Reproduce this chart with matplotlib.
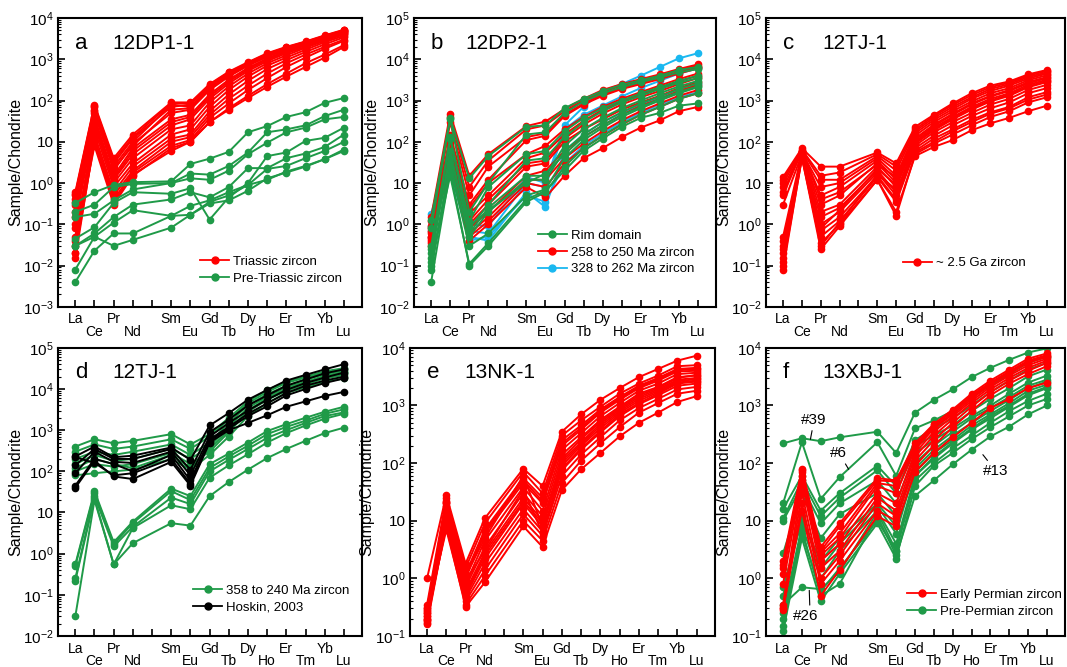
import numpy as np
import matplotlib
matplotlib.use('Agg')
import matplotlib.pyplot as plt
from matplotlib.lines import Line2D
from matplotlib.ticker import LogLocator, FuncFormatter, NullFormatter

plt.rcParams['font.family'] = ['Liberation Sans', 'DejaVu Sans']
plt.rcParams['mathtext.default'] = 'regular'

# REE order, Pm has a tick but no data
ree = ['La', 'Ce', 'Pr', 'Nd', 'Pm', 'Sm', 'Eu', 'Gd', 'Tb', 'Dy', 'Ho', 'Er', 'Tm', 'Yb', 'Lu']
measured = [e for e in ree if e != 'Pm']
upper_row = ['La', 'Pr', 'Sm', 'Gd', 'Dy', 'Er', 'Yb']

RED = '#ff0000'
GREEN = '#1f9a48'
CYAN = '#1ab8f0'
BLACK = '#000000'

# ---- panel a: 12DP1-1 ----
a_triassic = [
    [0.6, 80, 4.0, 15, 90, 90, 250, 500, 850, 1400, 2000, 2700, 3800, 5200],
    [0.55, 75, 3.5, 13, 85, 85, 240, 480, 820, 1350, 1950, 2650, 3700, 5100],
    [0.5, 70, 2.5, 10, 80, 70, 200, 420, 750, 1200, 1800, 2500, 3500, 4800],
    [0.4, 60, 3.0, 12, 70, 80, 220, 450, 800, 1300, 1900, 2600, 3600, 5000],
    [0.35, 55, 2.2, 8, 60, 65, 190, 400, 720, 1180, 1750, 2450, 3450, 4750],
    [0.3, 50, 2.0, 9, 50, 60, 180, 380, 700, 1150, 1700, 2400, 3400, 4700],
    [0.2, 40, 1.5, 7, 35, 45, 140, 320, 620, 1050, 1600, 2300, 3300, 4500],
    [0.15, 35, 1.3, 6, 30, 40, 125, 290, 570, 980, 1500, 2150, 3150, 4350],
    [0.1, 30, 1.2, 5, 25, 35, 110, 260, 520, 900, 1400, 2000, 3000, 4200],
    [0.05, 25, 1.0, 4, 20, 25, 90, 220, 450, 800, 1250, 1900, 2800, 4000],
    [0.03, 20, 0.8, 3, 15, 20, 70, 180, 380, 700, 1100, 1700, 2600, 3700],
    [0.02, 15, 0.6, 2.5, 12, 15, 55, 140, 300, 580, 950, 1500, 2300, 3400],
    [0.015, 12, 0.5, 2, 10, 13, 45, 110, 230, 450, 800, 1300, 2000, 3000],
    [0.02, 10, 0.4, 1.8, 8, 11, 38, 85, 180, 350, 650, 1100, 1800, 2800],
    [0.04, 8, 0.3, 1.5, 7, 10, 30, 65, 130, 250, 450, 800, 1300, 2200],
    [0.08, 10, 0.35, 1.6, 6, 10, 30, 60, 115, 215, 380, 650, 1100, 2000],
]
a_pre_triassic = [
    [0.33, 0.6, 0.9, 1.05, 1.1, 2.9, 3.9, 5.7, 17, 24, 40, 52, 88, 115],
    [0.2, 0.3, 0.8, 0.95, 1.0, 1.7, 1.6, 2.6, 5.5, 17, 20, 25, 42, 60],
    [0.15, 0.18, 0.38, 0.7, 1.0, 1.3, 1.2, 2.0, 5.0, 9.5, 17, 22, 35, 40],
    [0.045, 0.085, 0.33, 0.6, 0.55, 0.75, 0.13, 0.45, 1.0, 4.5, 5.5, 10.5, 12.5, 22],
    [0.03, 0.06, 0.15, 0.3, 0.4, 0.6, 0.45, 0.8, 2.3, 2.3, 4.0, 5.2, 7.5, 15],
    [0.008, 0.05, 0.11, 0.22, 0.16, 0.28, 0.38, 0.6, 0.9, 2.2, 2.6, 4.0, 6.0, 10],
    [0.004, 0.023, 0.06, 0.06, 0.16, 0.17, 0.32, 0.38, 0.65, 1.3, 1.8, 2.5, 3.8, 6],
    [0.03, 0.05, 0.03, 0.042, 0.083, 0.17, 0.35, 0.5, 0.9, 1.2, 1.9, 2.6, 3.8, 6.5],
]

# ---- panel b: 12DP2-1 ----
b_rim = [
    [1.3, 380, 13, 45, 230, 250, 650, 1100, 1700, 2400, 3100, 4000, 5500, 6500],
    [0.8, 350, 2.0, 10, 150, 170, 500, 950, 1500, 2100, 2800, 3600, 4800, 5800],
    [0.3, 130, 1.2, 8, 50, 60, 180, 380, 650, 1000, 1500, 2100, 3000, 4000],
    [0.2, 120, 0.8, 3, 35, 40, 130, 300, 550, 900, 1300, 1900, 2700, 3500],
    [0.15, 60, 0.6, 2.5, 15, 15, 80, 200, 380, 650, 1000, 1500, 2200, 3000],
    [0.1, 30, 0.5, 2.0, 12, 12, 60, 150, 300, 520, 850, 1250, 1900, 2600],
    [0.08, 25, 0.3, 0.6, 5, 7, 40, 110, 220, 400, 650, 1000, 1500, 2100],
    [0.04, 20, 0.1, 0.3, 3.5, 6, 25, 70, 140, 270, 450, 700, 1100, 1500],
    [0.12, 15, 0.11, 0.35, 4, 6.5, 20, 60, 120, 230, 380, 500, 750, 850],
    [0.25, 40, 0.9, 2.2, 10, 17, 50, 130, 250, 450, 700, 1100, 1600, 2200],
]
b_258_250 = [
    [1.5, 480, 15, 50, 240, 310, 620, 1100, 1800, 2500, 3300, 4300, 5800, 7500],
    [0.9, 400, 8, 35, 200, 250, 550, 1000, 1600, 2300, 3000, 4000, 5500, 7000],
    [0.6, 300, 5, 25, 130, 160, 450, 850, 1400, 2000, 2700, 3600, 5000, 6500],
    [0.5, 150, 3, 12, 110, 140, 420, 800, 1300, 1900, 2500, 3300, 4500, 6000],
    [0.4, 100, 2.5, 10, 50, 80, 200, 400, 700, 1100, 1600, 2300, 3300, 4500],
    [0.35, 80, 1.8, 5, 40, 55, 150, 320, 600, 950, 1400, 2000, 2900, 4000],
    [0.3, 60, 1.2, 4, 30, 35, 120, 260, 480, 800, 1200, 1700, 2500, 3500],
    [0.8, 50, 1.0, 3, 25, 30, 100, 200, 350, 600, 900, 1300, 2000, 2800],
    [0.45, 40, 0.8, 2, 15, 20, 60, 130, 250, 450, 750, 1100, 1700, 2400],
    [1.2, 30, 0.5, 1.2, 10, 8, 30, 70, 140, 260, 450, 700, 1100, 1500],
    [0.5, 25, 0.4, 1.0, 8, 4.5, 15, 40, 70, 130, 220, 330, 550, 700],
    [0.7, 45, 0.6, 1.5, 12, 12, 40, 90, 180, 330, 550, 850, 1300, 1800],
]
b_328_262 = [
    [1.8, 90, 1.0, 0.9, 14, 10, 250, 700, 1700, 2500, 4000, 6500, 10500, 14000],
    [0.9, 60, 0.7, 0.6, 10, 8, 200, 450, 750, 1250, 2000, 3000, 4500, 6000],
    [0.5, 40, 0.5, 0.4, 6, 2.6, 60, 150, 300, 500, 800, 1200, 1800, 2500],
    [0.7, 20, 0.4, 0.5, 5, 3.5, 30, 80, 160, 300, 500, 800, 1200, 1600],
]

# ---- panel c: 12TJ-1 ----
c_25ga = [
    [14, 70, 25, 25, 55, 30, 230, 450, 850, 1500, 2300, 2900, 4300, 5500],
    [12, 65, 15, 18, 50, 25, 200, 420, 780, 1350, 2100, 2700, 4000, 5200],
    [10, 60, 12, 12, 45, 20, 180, 380, 700, 1200, 1900, 2500, 3700, 4800],
    [8, 55, 8, 10, 40, 15, 160, 340, 620, 1100, 1700, 2300, 3400, 4500],
    [5, 60, 5, 8, 35, 12, 140, 300, 550, 950, 1500, 2000, 3100, 4100],
    [3, 50, 3, 5, 30, 10, 120, 260, 480, 850, 1300, 1800, 2800, 3700],
    [0.5, 55, 2, 3, 25, 8, 100, 220, 400, 700, 1100, 1500, 2400, 3200],
    [0.4, 45, 1.5, 2.5, 20, 6, 90, 190, 350, 600, 950, 1300, 2100, 2800],
    [0.3, 50, 1.0, 2.0, 18, 5, 80, 170, 300, 500, 800, 1100, 1800, 2400],
    [0.2, 40, 0.7, 1.5, 15, 4, 70, 140, 250, 420, 650, 900, 1500, 2000],
    [0.15, 45, 0.5, 1.2, 14, 3.5, 60, 120, 200, 340, 520, 700, 1200, 1600],
    [0.1, 40, 0.35, 1.0, 12, 1.6, 50, 90, 150, 250, 400, 550, 900, 1200],
    [0.08, 42, 0.25, 0.9, 12, 2, 45, 75, 110, 190, 280, 380, 550, 750],
    [0.12, 48, 0.3, 1.1, 16, 7, 55, 100, 180, 300, 480, 650, 1050, 1400],
    [0.25, 52, 0.8, 2.2, 22, 9, 95, 200, 380, 650, 1000, 1400, 2200, 3000],
    [6, 58, 4, 6, 28, 14, 110, 240, 450, 800, 1250, 1700, 2600, 3500],
]

# ---- panel d: 12TJ-1 ----
d_358_240 = [
    [400, 600, 480, 550, 800, 450, 800, 2000, 5000, 9500, 15000, 20000, 27000, 32000],
    [300, 450, 350, 400, 600, 350, 700, 1800, 4500, 8500, 14000, 19000, 25000, 30000],
    [200, 300, 250, 300, 450, 250, 500, 1500, 4000, 7500, 12000, 17000, 23000, 28000],
    [150, 250, 180, 200, 350, 200, 400, 1200, 3500, 6500, 11000, 15000, 21000, 26000],
    [100, 150, 130, 150, 280, 150, 300, 900, 2800, 5500, 9000, 13000, 18000, 22000],
    [80, 90, 100, 110, 200, 110, 250, 700, 2200, 4500, 8000, 11000, 15000, 18000],
    [120, 200, 150, 120, 250, 120, 350, 1000, 3000, 6000, 10000, 14000, 19000, 24000],
    [0.55, 33, 1.9, 6, 38, 25, 150, 270, 500, 950, 1400, 2000, 2800, 3700],
    [0.5, 30, 1.7, 5.5, 33, 20, 120, 230, 420, 800, 1200, 1700, 2500, 3200],
    [0.25, 25, 1.5, 4.5, 23, 16, 100, 190, 350, 650, 1000, 1500, 2200, 2700],
    [0.22, 22, 0.55, 4.2, 15, 12, 70, 140, 260, 500, 850, 1300, 1900, 2500],
    [0.03, 20, 0.55, 1.8, 5.5, 4.8, 25, 55, 110, 210, 350, 550, 850, 1150],
]
d_hoskin = [
    [230, 400, 220, 240, 380, 190, 1300, 2600, 5500, 9500, 16000, 22000, 30000, 40000],
    [140, 350, 200, 200, 350, 110, 900, 1800, 4000, 7000, 12000, 17000, 24000, 30000],
    [90, 300, 170, 160, 300, 80, 700, 1500, 3000, 5500, 9500, 14000, 19000, 25000],
    [45, 200, 150, 100, 250, 60, 600, 1200, 2500, 4500, 8000, 12000, 16000, 20000],
    [40, 180, 75, 65, 170, 45, 500, 1000, 1500, 2300, 3700, 5000, 6800, 8500],
    [220, 160, 80, 90, 200, 50, 550, 1100, 2200, 3800, 7000, 10000, 14000, 18000],
]

# ---- panel e: 13NK-1 ----
e_zircon = [
    [1.0, 28, 1.8, 11, 80, 40, 350, 700, 1250, 2000, 3100, 4300, 6000, 7300],
    [0.35, 25, 1.5, 9, 70, 30, 300, 550, 950, 1600, 2400, 3300, 4800, 5000],
    [0.3, 22, 1.2, 7, 55, 25, 250, 450, 850, 1400, 2200, 3000, 4300, 4500],
    [0.27, 21, 1.1, 6.5, 50, 22, 220, 410, 800, 1320, 2100, 2850, 4100, 4250],
    [0.25, 20, 1.0, 6, 45, 20, 200, 380, 750, 1250, 2000, 2700, 3900, 4000],
    [0.22, 18, 0.8, 4.5, 38, 15, 170, 330, 650, 1100, 1800, 2400, 3500, 3700],
    [0.2, 15, 0.7, 3.5, 30, 12, 140, 280, 560, 950, 1600, 2100, 3100, 3300],
    [0.18, 12, 0.6, 2.8, 25, 10, 110, 230, 480, 850, 1400, 1900, 2800, 3000],
    [0.17, 10, 0.5, 2.2, 20, 8, 90, 200, 400, 750, 1200, 1700, 2500, 2700],
    [0.16, 9, 0.45, 1.8, 16, 6.5, 75, 170, 340, 650, 1050, 1500, 2200, 2400],
    [0.2, 8, 0.4, 1.4, 13, 5.5, 60, 140, 280, 550, 900, 1300, 1900, 2100],
    [0.25, 7, 0.35, 1.1, 10, 4.5, 45, 110, 220, 420, 750, 1100, 1600, 1800],
    [0.3, 8, 0.32, 0.85, 8, 3.5, 34, 78, 150, 290, 500, 750, 1150, 1450],
    [0.22, 20, 1.1, 5, 60, 8, 120, 260, 520, 900, 1500, 2000, 3000, 3400],
    [0.28, 16, 0.9, 3, 35, 6, 80, 180, 360, 700, 1100, 1600, 2400, 2600],
    [0.19, 14, 0.55, 2.5, 22, 9, 100, 215, 440, 800, 1300, 1800, 2650, 2850],
]

# ---- panel f: 13XBJ-1 ----
f_pre_permian = [
    [220, 270, 240, 280, 350, 150, 750, 1250, 1900, 3100, 4500, 6200, 8300, 9800],   # #39
    [20, 230, 24, 57, 230, 60, 400, 550, 800, 1400, 2200, 3500, 5500, 7000],         # #6
    [16, 60, 15, 30, 90, 40, 250, 400, 600, 1000, 1700, 2700, 4200, 5500],
    [11, 50, 12, 25, 75, 30, 200, 300, 450, 800, 1300, 2000, 3200, 4200],
    [10, 40, 9, 20, 50, 20, 150, 250, 400, 650, 1000, 1600, 2500, 3300],
    [2.7, 30, 5, 13, 30, 12, 100, 200, 350, 600, 900, 1400, 2200, 2800],
    [0.7, 10, 2, 5, 20, 8, 70, 150, 250, 450, 700, 1100, 1800, 2300],
    [0.25, 8, 1.0, 3, 15, 4, 60, 120, 220, 380, 600, 950, 1500, 2000],
    [0.15, 6, 0.6, 1.5, 10, 3, 50, 100, 180, 300, 500, 800, 1200, 1600],
    [0.12, 5, 0.4, 1.2, 9, 2.2, 40, 90, 150, 260, 420, 650, 1000, 1300],
    [0.2, 7, 0.5, 0.8, 12, 2.5, 27, 50, 95, 170, 290, 430, 700, 1000],              # #13
    [0.35, 0.7, 0.65, 1.3, 14, 3, 60, 130, 230, 400, 650, 1000, 1600, 2100],        # #26
    [0.5, 12, 1.5, 4, 18, 6, 80, 170, 300, 500, 800, 1250, 2000, 2600],
]
f_early_permian = [
    [2.0, 80, 3.5, 9, 55, 50, 220, 480, 850, 1600, 2700, 4200, 6500, 8000],
    [1.7, 70, 3.0, 8, 50, 48, 200, 450, 800, 1500, 2500, 3900, 6000, 7500],
    [1.5, 75, 2.8, 6, 45, 40, 190, 420, 750, 1400, 2400, 3800, 5800, 7200],
    [1.2, 60, 2.5, 5, 40, 30, 170, 400, 700, 1300, 2300, 3600, 5500, 7000],
    [0.8, 50, 2.0, 4, 30, 20, 150, 350, 650, 1200, 2100, 3300, 5000, 6500],
    [0.35, 45, 1.5, 3, 25, 15, 130, 300, 580, 1100, 1900, 3000, 4500, 6000],
    [0.3, 30, 1.0, 2.5, 20, 12, 110, 250, 500, 950, 1700, 2700, 4000, 5500],
    [0.28, 20, 0.8, 2, 15, 10, 90, 200, 420, 800, 1500, 2400, 3500, 4800],
    [0.3, 15, 0.5, 1.4, 12, 8, 70, 150, 280, 500, 900, 1300, 2000, 2500],
]

xpos = [ree.index(e) for e in measured]


def fmt_pow(v, pos):
    n = int(round(np.log10(v)))
    return '10' if n == 1 else r'$10^{%d}$' % n


def setup(ax, ylo, yhi):
    ax.set_yscale('log')
    ax.set_ylim(ylo, yhi)
    ax.set_xlim(-0.9, 14.95)
    ax.set_xticks(range(len(ree)))
    labels = ['' if e == 'Pm' else (e if e in upper_row else '\n' + e) for e in ree]
    ax.set_xticklabels(labels, fontsize=10, linespacing=0.88)
    ax.tick_params(axis='x', direction='in', length=5, width=1.2, pad=4)
    ax.tick_params(axis='y', which='major', direction='in', length=5, width=1.2,
                   labelsize=11, pad=3)
    ax.tick_params(axis='y', which='minor', direction='in', length=2.5, width=0.8)
    ax.yaxis.set_major_locator(LogLocator(base=10, numticks=20))
    ax.yaxis.set_minor_locator(LogLocator(base=10, subs=np.arange(2, 10), numticks=20))
    ax.yaxis.set_major_formatter(FuncFormatter(fmt_pow))
    ax.yaxis.set_minor_formatter(NullFormatter())
    ax.yaxis.get_offset_text().set_visible(False)
    ax.xaxis.get_offset_text().set_visible(False)
    for s in ax.spines.values():
        s.set_linewidth(1.5)
    ax.set_ylabel('Sample/Chondrite', fontsize=11.5)
    ax.yaxis.set_label_coords(-0.115, 0.5)


def draw(ax, rows, color):
    for r in rows:
        ax.plot(xpos, r, color=color, lw=1.4, marker='o', ms=4.5, mec=color, mfc=color)


def title(ax, letter, name, xname):
    ax.text(0.056, 0.913, letter, fontsize=16, va='center', transform=ax.transAxes)
    ax.text(xname, 0.913, name, fontsize=15, va='center', transform=ax.transAxes)


def legend(ax, items, x, y):
    handles = [Line2D([], [], color=c, lw=1.3, marker='o', ms=5) for c, _ in items]
    ax.legend(handles, [t for _, t in items], loc='upper left', bbox_to_anchor=(x, y),
              frameon=False, fontsize=9.5, handlelength=2.2, handletextpad=0.3,
              labelspacing=0.35, borderpad=0, borderaxespad=0)


fig = plt.figure(figsize=(10.67, 6.67), dpi=100)

ax_a = fig.add_axes([0.0544, 0.540, 0.285, 0.433])
ax_b = fig.add_axes([0.388, 0.540, 0.283, 0.433])
ax_c = fig.add_axes([0.718, 0.540, 0.280, 0.433])
ax_d = fig.add_axes([0.0544, 0.0465, 0.285, 0.432])
ax_e = fig.add_axes([0.384, 0.0465, 0.286, 0.432])
ax_f = fig.add_axes([0.718, 0.0465, 0.280, 0.432])

# a
setup(ax_a, 1e-3, 1e4)
draw(ax_a, a_triassic, RED)
draw(ax_a, a_pre_triassic, GREEN)
title(ax_a, 'a', '12DP1-1', 0.18)
legend(ax_a, [(RED, 'Triassic zircon'), (GREEN, 'Pre-Triassic zircon')], 0.467, 0.178)

# b
setup(ax_b, 1e-2, 1e5)
draw(ax_b, b_328_262, CYAN)
draw(ax_b, b_258_250, RED)
draw(ax_b, b_rim, GREEN)
title(ax_b, 'b', '12DP2-1', 0.17)
legend(ax_b, [(GREEN, 'Rim domain'), (RED, '258 to 250 Ma zircon'),
              (CYAN, '328 to 262 Ma zircon')], 0.41, 0.268)

# c
setup(ax_c, 1e-2, 1e5)
draw(ax_c, c_25ga, RED)
title(ax_c, 'c', '12TJ-1', 0.19)
legend(ax_c, [(RED, '~ 2.5 Ga zircon')], 0.458, 0.172)

# d
setup(ax_d, 1e-2, 1e5)
draw(ax_d, d_358_240, GREEN)
draw(ax_d, d_hoskin, BLACK)
title(ax_d, 'd', '12TJ-1', 0.18)
legend(ax_d, [(GREEN, '358 to 240 Ma zircon'), (BLACK, 'Hoskin, 2003')], 0.444, 0.179)

# e
setup(ax_e, 1e-1, 1e4)
draw(ax_e, e_zircon, RED)
title(ax_e, 'e', '13NK-1', 0.18)

# f
setup(ax_f, 1e-1, 1e4)
draw(ax_f, f_pre_permian, GREEN)
draw(ax_f, f_early_permian, RED)
title(ax_f, 'f', '13XBJ-1', 0.19)
legend(ax_f, [(RED, 'Early Permian zircon'), (GREEN, 'Pre-Permian zircon')], 0.472, 0.165)

arrow = dict(arrowstyle='-', color='black', lw=0.8, shrinkA=1, shrinkB=0)
ax_f.annotate('#39', xy=(1.45, 258), xytext=(1.65, 570), fontsize=11,
              ha='center', va='center', arrowprops=arrow)
ax_f.annotate('#6', xy=(3.48, 78), xytext=(2.96, 150), fontsize=11,
              ha='center', va='center', arrowprops=arrow)
ax_f.annotate('#13', xy=(10.6, 140), xytext=(11.3, 72), fontsize=11,
              ha='center', va='center', arrowprops=arrow)
ax_f.annotate('#26', xy=(1.39, 0.62), xytext=(1.22, 0.22), fontsize=11,
              ha='center', va='center', arrowprops=dict(arrow, relpos=(0.65, 1.0)))

fig.savefig('out.png', dpi=100)
